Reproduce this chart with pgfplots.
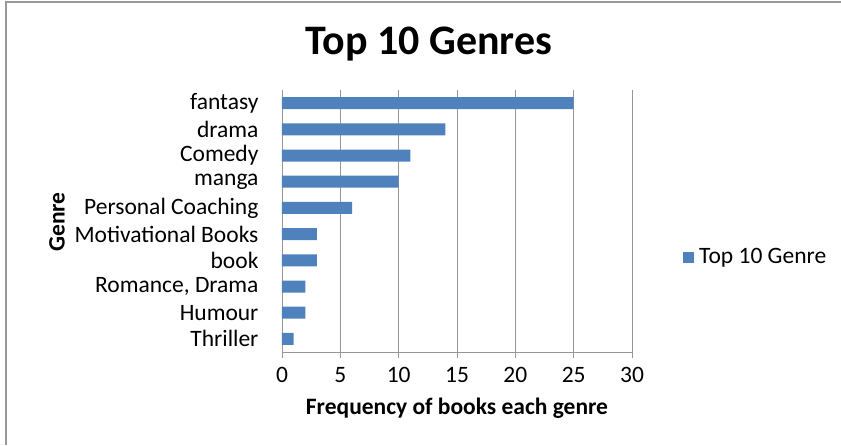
\documentclass[border=0pt]{standalone}
\usepackage{pgfplots}
\pgfplotsset{compat=1.18}
\usepackage{fontspec}
\setmainfont{Carlito}
\definecolor{barblue}{HTML}{4F81BD}
\definecolor{gridgray}{RGB}{150,150,150}
\begin{document}
\begin{tikzpicture}[x=1pt,y=1pt]
\useasboundingbox (0,0) rectangle (841,445);
\draw[gray!80, line width=1.5pt] (6,0) -- (6,443) -- (841,443);
\node[font=\fontsize{42}{46}\selectfont\bfseries] at (429,401) {Top 10 Genres};
\begin{axis}[
  at={(282pt,93pt)}, anchor=south west,
  scale only axis, width=350pt, height=262pt,
  xbar, bar width=12pt,
  xmin=0, xmax=30, ymin=-0.5, ymax=9.5,
  xtick={0,5,...,30},
  ytick={0,...,9},
  yticklabels={Thriller,Humour,{Romance, Drama},book,Motivational Books,Personal Coaching,manga,Comedy,drama,fantasy},
  axis x line*=bottom, axis y line*=left,
  axis line style={gridgray, line width=0.9pt},
  x axis line style={-}, y axis line style={-},
  xmajorgrids, major grid style={gridgray, line width=0.9pt},
  xtick style={gridgray, line width=0.9pt},
  ytick style={draw=none},
  tick align=outside, major tick length=6pt,
  ticklabel style={font=\fontsize{23.5}{26}\selectfont},
  /pgf/number format/assume math mode=true,
  xticklabel style={yshift=-6pt},
  yticklabel style={xshift=-14pt},
  xlabel={\textbf{Frequency of books each genre}},
  xlabel style={font=\fontsize{23.5}{26}\selectfont, yshift=-8pt},
]
\addplot[fill=barblue, draw=none] coordinates {
(1,0) (2,1) (2,2) (3,3) (3,4) (6,5) (10,6) (11,7) (14,8) (25,9)};
\end{axis}
\node[rotate=90, font=\fontsize{23.5}{26}\selectfont\bfseries] at (57,223) {Genre};
\fill[barblue] (683,181.5) rectangle (694,192.5);
\node[anchor=west, font=\fontsize{23.5}{26}\selectfont, inner sep=0pt] at (699,187) {Top 10 Genre};
\end{tikzpicture}
\end{document}
